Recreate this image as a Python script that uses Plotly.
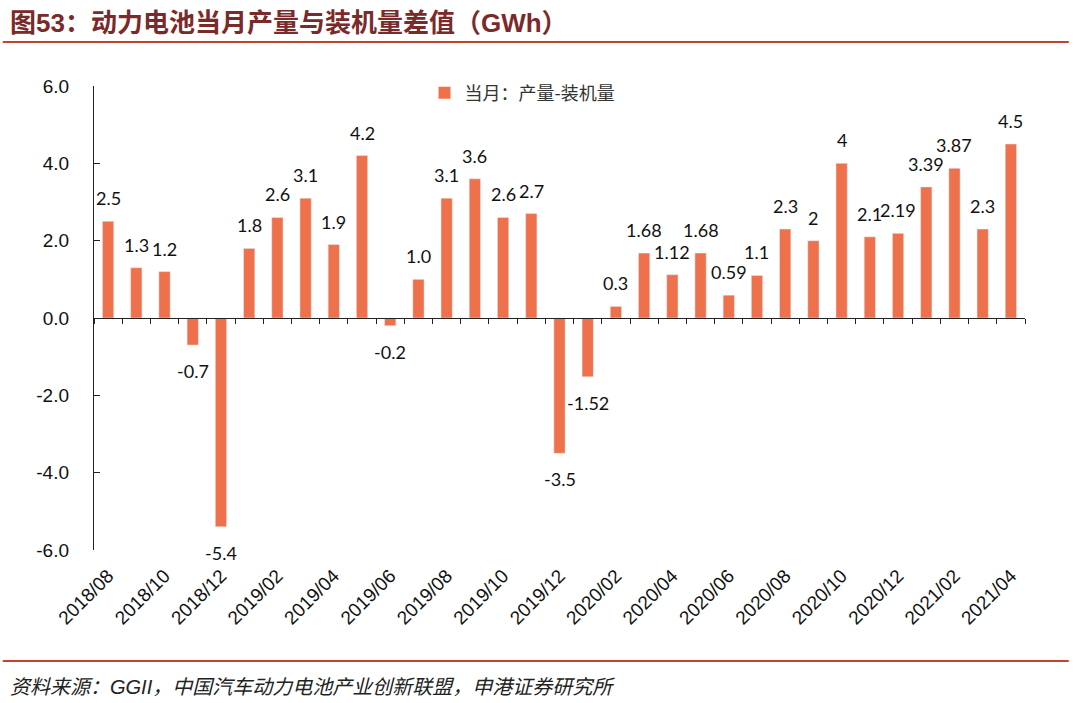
import plotly.graph_objects as go

# ── Data ──────────────────────────────────────────────────────────────────────
months = [
    "2018/08", "2018/09", "2018/10", "2018/11", "2018/12",
    "2019/01", "2019/02", "2019/03", "2019/04", "2019/05", "2019/06",
    "2019/07", "2019/08", "2019/09", "2019/10", "2019/11", "2019/12",
    "2020/01", "2020/02", "2020/03", "2020/04", "2020/05", "2020/06",
    "2020/07", "2020/08", "2020/09", "2020/10", "2020/11", "2020/12",
    "2021/01", "2021/02", "2021/03", "2021/04",
]
diff_gwh = [
    2.5, 1.3, 1.2, -0.7, -5.4,
    1.8, 2.6, 3.1, 1.9, 4.2, -0.2,
    1.0, 3.1, 3.6, 2.6, 2.7, -3.5,
    -1.52, 0.3, 1.68, 1.12, 1.68, 0.59,
    1.1, 2.3, 2, 4, 2.1, 2.19,
    3.39, 3.87, 2.3, 4.5,
]
label_text = [
    "2.5", "1.3", "1.2", "-0.7", "-5.4",
    "1.8", "2.6", "3.1", "1.9", "4.2", "-0.2",
    "1.0", "3.1", "3.6", "2.6", "2.7", "-3.5",
    "-1.52", "0.3", "1.68", "1.12", "1.68", "0.59",
    "1.1", "2.3", "2", "4", "2.1", "2.19",
    "3.39", "3.87", "2.3", "4.5",
]
x_ticks = months[::2]
y_ticks = [-6, -4, -2, 0, 2, 4, 6]
y_tick_text = ["-6.0", "-4.0", "-2.0", "0.0", "2.0", "4.0", "6.0"]
series_name = "当月：产量-装机量"

BAR_COLOR = "#ef714b"
RULE_COLOR = "#c0452b"
TITLE_COLOR = "#7b2a2a"
CJK = "Noto Sans CJK SC"

fig = go.Figure()

# bars, on the bottom (label) axis
fig.add_trace(go.Bar(
    x=months, y=diff_gwh, name=series_name,
    marker=dict(color=BAR_COLOR, line=dict(width=0)),
    width=0.4,
    hoverinfo="skip",
))

# invisible copy on an overlaid axis that carries the zero line + ticks
fig.add_trace(go.Bar(
    x=months, y=diff_gwh, xaxis="x2",
    marker=dict(color="rgba(0,0,0,0)"), width=0.4,
    showlegend=False, hoverinfo="skip",
))

# value labels
for m, v, t in zip(months, diff_gwh, label_text):
    fig.add_annotation(
        x=m, y=v, text=t, showarrow=False,
        yshift=23 if v >= 0 else -26,
        font=dict(family="Lato", size=18, color="#111111"),
    )

# ── Layout ────────────────────────────────────────────────────────────────────
fig.update_layout(
    width=1080, height=703,
    paper_bgcolor="white", plot_bgcolor="white",
    margin=dict(l=94, r=55, t=86, b=153),
    barmode="overlay",
    showlegend=True,
    legend=dict(
        x=0.355, y=0.985, xanchor="left", yanchor="middle",
        font=dict(family=CJK, size=18, color="#333333"),
        bgcolor="rgba(0,0,0,0)", itemwidth=30,
    ),
    xaxis=dict(
        type="category", range=[-0.5, len(months) - 0.5],
        tickmode="array", tickvals=x_ticks, ticktext=x_ticks,
        tickangle=-45, ticks="", showline=False, showgrid=False,
        zeroline=False, ticklabelstandoff=10,
        tickfont=dict(family="Liberation Sans", size=19, color="#111111"),
    ),
    xaxis2=dict(
        type="category", overlaying="x", matches="x",
        anchor="free", position=0.5,
        showline=True, linecolor="#222222", linewidth=1.3,
        ticks="outside", ticklen=5, tickwidth=1.3, tickcolor="#222222",
        tickson="boundaries", tickmode="linear", dtick=1,
        showticklabels=False, showgrid=False, zeroline=False,
    ),
    yaxis=dict(
        range=[-6, 6], tickmode="array", tickvals=y_ticks,
        ticktext=y_tick_text,
        ticks="inside", ticklen=6, tickwidth=1.3, tickcolor="#222222",
        showline=True, linecolor="#222222", linewidth=1.3,
        showgrid=False, zeroline=False,
        ticklabelstandoff=20,
        tickfont=dict(family="Liberation Sans", size=19, color="#111111"),
    ),
)

# title, rules, source note
fig.add_annotation(
    xref="paper", yref="paper", x=-0.0925, y=1.142,
    xanchor="left", yanchor="middle", showarrow=False,
    text=("<b>图<span style='font-family:Liberation Sans'>53</span>：动力电池当月产量与装机量差值"
          "（<span style='font-family:Liberation Sans'>GWh</span>）</b>"),
    font=dict(family=CJK, size=26, color=TITLE_COLOR),
)
fig.add_shape(type="line", xref="paper", yref="paper",
              x0=-0.098, x1=1.047, y0=1.095, y1=1.095,
              line=dict(color=RULE_COLOR, width=2))
fig.add_shape(type="line", xref="paper", yref="paper",
              x0=-0.098, x1=1.047, y0=-0.239, y1=-0.239,
              line=dict(color=RULE_COLOR, width=2))
fig.add_annotation(
    xref="paper", yref="paper", x=-0.0925, y=-0.291,
    xanchor="left", yanchor="middle", showarrow=False,
    text="<i>资料来源：<span style='font-family:Liberation Sans'>GGII</span>，中国汽车动力电池产业创新联盟，申港证券研究所</i>",
    font=dict(family=CJK, size=20, color="#222222"),
)

fig.write_html("out.html", config={"displayModeBar": False},
               post_script="document.body.style.margin='0';")
